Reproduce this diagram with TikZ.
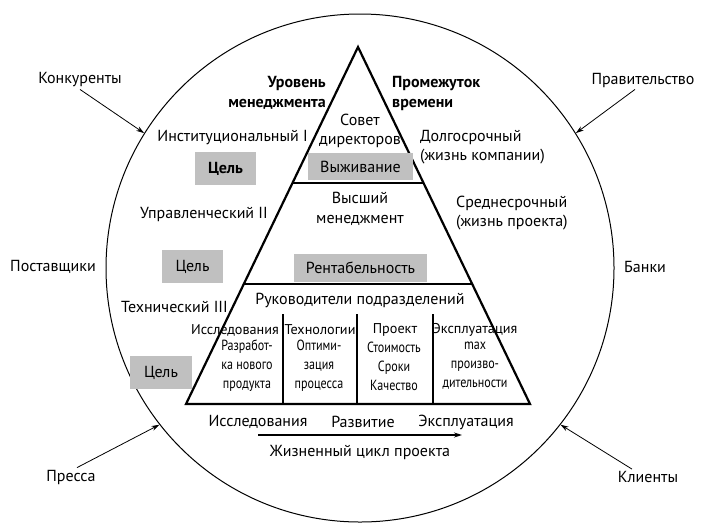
\documentclass[tikz,border=0pt]{standalone}
\usepackage{fontspec}
\setmainfont{PT Sans}
\newfontfamily\condfont[FakeStretch=0.82]{PT Sans}
\usetikzlibrary{arrows.meta,calc}
\definecolor{boxgray}{RGB}{192,192,192}
\tikzset{
  txt/.style={inner sep=0pt, font=\fontsize{16}{19.5}\selectfont},
  head/.style={inner sep=0pt, font=\fontsize{14.2}{19}\selectfont},
  cell/.style={inner sep=0pt, align=center, font=\condfont\fontsize{14.7}{19}\selectfont},
  goal/.style={fill=boxgray, inner sep=0pt, font=\fontsize{16}{19}\selectfont},
  outer/.style={inner sep=2pt, font=\fontsize{16}{19}\selectfont},
  pull/.style={line width=0.8pt, -{Stealth[length=8pt,width=5pt]}},
}
\begin{document}
\begin{tikzpicture}[x=1pt, y=-1pt]
\useasboundingbox (0,0) rectangle (706,528);
% environment circle
\node[circle, draw, line width=1pt, minimum size=508pt, inner sep=0pt] (ring) at (360,268){};
% pyramid
\coordinate (apex) at (358,47);
\coordinate (bl) at (186,404);
\coordinate (br) at (530,404);
\draw[line width=2.2pt, line join=miter] (apex) -- (bl) -- (br) -- cycle;
\coordinate (l1a) at ($(apex)!0.381!(bl)$);
\coordinate (l1b) at ($(apex)!0.381!(br)$);
\coordinate (l2a) at ($(apex)!0.664!(bl)$);
\coordinate (l2b) at ($(apex)!0.664!(br)$);
\draw[line width=1.4pt] (l1a) -- (l1b);
\draw[line width=1.4pt] (l2a) -- (l2b);
\coordinate (d1t) at (283,314);
\coordinate (d1b) at (283,404);
\coordinate (d2t) at (357,314);
\coordinate (d2b) at (357,404);
\coordinate (d3t) at (433,314);
\coordinate (d3b) at (433,404);
\draw[line width=1.2pt] (d1t) -- (d1b);
\draw[line width=1.2pt] (d2t) -- (d2b);
\draw[line width=1.2pt] (d3t) -- (d3b);
% grey boxes
\node[goal, minimum width=61pt, minimum height=33pt, font=\bfseries\fontsize{16}{19}\selectfont] (cel1) at (225.5,168.5){Цель};
\node[goal, minimum width=105pt, minimum height=27pt] (vyzh) at (360.5,166.5){Выживание};
\node[goal, minimum width=61pt, minimum height=33pt] (cel2) at (192.5,266.5){Цель};
\node[goal, minimum width=133pt, minimum height=28pt] (rent) at (360.5,268){Рентабельность};
\node[goal, minimum width=62pt, minimum height=33pt] (cel3) at (161,372.5){Цель};
% texts round the pyramid
\node[txt, anchor=east, align=right, font=\bfseries\fontsize{16}{20}\selectfont] (urov) at (326,93){Уровень\\менеджмента};
\node[txt, anchor=west, align=left, font=\bfseries\fontsize{16}{20}\selectfont] (prom) at (392,93){Промежуток\\времени};
\node[txt, align=center] (sovet) at (360,131){Совет\\директоров};
\node[txt, anchor=east] (inst) at (308,138){Институциональный I};
\node[txt, anchor=west, align=left] (dolg) at (420,147){Долгосрочный\\(жизнь компании)};
\node[txt, align=center] (vyssh) at (360,209){Высший\\менеджмент};
\node[txt, anchor=east] (upr) at (268,214){Управленческий II};
\node[txt, anchor=west, align=left] (sredn) at (456,213){Среднесрочный\\(жизнь проекта)};
\node[txt] (ruk) at (360,300){Руководители подразделений};
\node[txt, anchor=west] (tech) at (121,307){Технический III};
% columns
\node[head] (h1) at (235,330){Исследования};
\node[head] (h2) at (320,330){Технологии};
\node[head] (h3) at (395,330){Проект};
\node[head] (h4) at (475,330){Эксплуатация};
\node[cell] (c1) at (247,366){Разработ-\\ка нового\\продукта};
\node[cell] (c2) at (319,366){Оптими-\\зация\\процесса};
\node[cell] (c3) at (394,366){Стоимость\\Сроки\\Качество};
\node[cell] (c4) at (475,366){max\\произво-\\дительности};
% life cycle
\node[txt] (ph1) at (258,422){Исследования};
\node[txt] (ph2) at (363,422){Развитие};
\node[txt] (ph3) at (466,422){Эксплуатация};
\coordinate (cycA) at (258,435);
\coordinate (cycB) at (462,435);
\draw[pull, line width=1.1pt] (cycA) -- (cycB);
\node[txt] (cycle) at (360,452){Жизненный цикл проекта};
% outside forces
\node[outer] (konk) at (80,80){Конкуренты};
\node[outer] (prav) at (643,80){Правительство};
\node[outer] (post) at (53,267){Поставщики};
\node[outer] (bank) at (645,267){Банки};
\node[outer] (pressa) at (71,477){Пресса};
\node[outer] (klient) at (648,477){Клиенты};
\draw[pull] (konk.south) -- (ring.148);
\draw[pull] ([xshift=-8pt]prav.south) -- (ring.32);
\draw[pull] ([xshift=6pt]pressa.north) -- (ring.218);
\draw[pull] ([xshift=-16pt]klient.north) -- (ring.-38);
\end{tikzpicture}
\end{document}
